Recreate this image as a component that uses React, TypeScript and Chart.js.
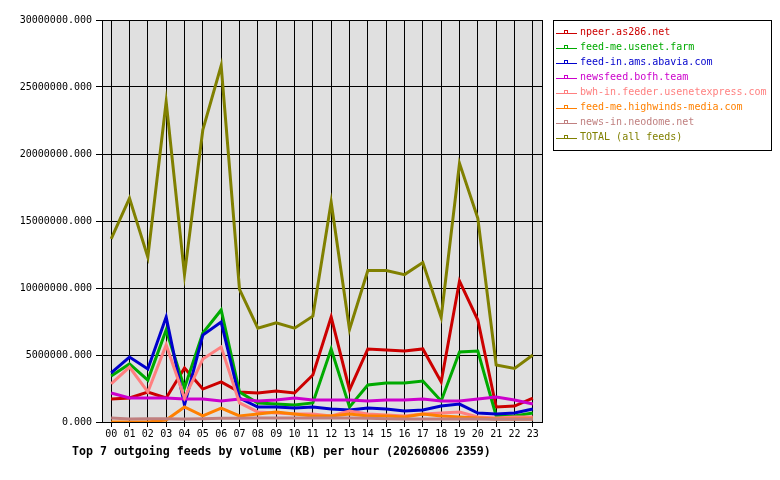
import { useEffect, useRef } from 'react';
import { Chart, registerables } from 'chart.js';

Chart.register(...registerables);

const hours = ['00', '01', '02', '03', '04', '05', '06', '07', '08', '09', '10', '11',
  '12', '13', '14', '15', '16', '17', '18', '19', '20', '21', '22', '23'];

const npeer = [1.72, 1.79, 2.24, 1.79, 4.03, 2.46, 2.99, 2.24, 2.16, 2.31, 2.16, 3.51,
  7.84, 2.39, 5.45, 5.37, 5.30, 5.45, 2.99, 10.52, 7.61, 1.12, 1.19, 1.79];
const feedMeUsenetFarm = [3.43, 4.33, 3.13, 6.87, 2.54, 6.64, 8.36, 2.24, 1.42, 1.34, 1.27, 1.42,
  5.45, 1.12, 2.76, 2.91, 2.91, 3.06, 1.57, 5.22, 5.30, 0.45, 0.45, 0.67];
const feedInAbavia = [3.66, 4.85, 3.96, 7.84, 1.27, 6.49, 7.46, 1.79, 1.12, 1.12, 1.04, 1.12,
  0.97, 0.90, 1.04, 0.97, 0.82, 0.90, 1.19, 1.34, 0.67, 0.60, 0.67, 0.97];
const newsfeedBofh = [2.16, 1.79, 1.79, 1.79, 1.72, 1.72, 1.57, 1.72, 1.57, 1.64, 1.79, 1.64,
  1.64, 1.64, 1.57, 1.64, 1.64, 1.72, 1.57, 1.57, 1.72, 1.87, 1.64, 1.34];
const bwhUsenetExpress = [2.84, 4.10, 2.24, 5.75, 1.79, 4.70, 5.60, 1.42, 0.75, 0.67, 0.60, 0.60,
  0.45, 0.82, 0.60, 0.52, 0.45, 0.60, 0.67, 0.75, 0.37, 0.30, 0.37, 0.37];
const feedMeHighwinds = [0, 0, 0, 0.15, 1.12, 0.45, 1.04, 0.45, 0.60, 0.75, 0.60, 0.45,
  0.45, 0.60, 0.45, 0.45, 0.37, 0.60, 0.45, 0.37, 0.30, 0.22, 0.22, 0.22];
const newsInNeodome = [0.30, 0.22, 0.25, 0.25, 0.22, 0.25, 0.28, 0.28, 0.30, 0.30, 0.30, 0.30,
  0.30, 0.30, 0.28, 0.25, 0.22, 0.22, 0.22, 0.22, 0.22, 0.20, 0.20, 0.20];
const totalAll = [13.66, 16.7, 12.3, 23.9, 11.0, 21.8, 26.6, 9.9, 7.0, 7.4, 7.0, 7.9,
  16.4, 6.9, 11.3, 11.3, 11.0, 11.9, 7.8, 19.3, 15.2, 4.25, 4.0, 5.0];

// values above are in millions of KB
const M = 1000000;

const feeds = [
  { label: 'npeer.as286.net', values: npeer, color: '#cc0000' },
  { label: 'feed-me.usenet.farm', values: feedMeUsenetFarm, color: '#00aa00' },
  { label: 'feed-in.ams.abavia.com', values: feedInAbavia, color: '#0000cc' },
  { label: 'newsfeed.bofh.team', values: newsfeedBofh, color: '#cc00cc' },
  { label: 'bwh-in.feeder.usenetexpress.com', values: bwhUsenetExpress, color: '#ff8080' },
  { label: 'feed-me.highwinds-media.com', values: feedMeHighwinds, color: '#ff8000' },
  { label: 'news-in.neodome.net', values: newsInNeodome, color: '#c08080' },
  { label: 'TOTAL (all feeds)', values: totalAll, color: '#808000' },
];

const chartTitle = 'Top 7 outgoing feeds by volume (KB) per hour (20260806 2359)';
const MONO = '"DejaVu Sans Mono", monospace';

const framePlugin = {
  id: 'frame',
  beforeDraw(chart: any) {
    const { ctx, chartArea } = chart;
    ctx.save();
    ctx.fillStyle = '#ffffff';
    ctx.fillRect(0, 0, chart.width, chart.height);
    ctx.fillStyle = '#e0e0e0';
    ctx.fillRect(chartArea.left, chartArea.top, chartArea.right - chartArea.left, chartArea.bottom - chartArea.top);
    ctx.restore();
  },
  afterDraw(chart: any) {
    const { ctx, chartArea } = chart;
    ctx.save();
    // plot frame
    ctx.strokeStyle = '#000000';
    ctx.lineWidth = 1;
    ctx.strokeRect(Math.round(chartArea.left) + 0.5, Math.round(chartArea.top) + 0.5,
      Math.round(chartArea.right - chartArea.left), Math.round(chartArea.bottom - chartArea.top));

    // legend box
    ctx.strokeStyle = '#000000';
    ctx.strokeRect(553.5, 20.5, 218, 130);
    ctx.font = '10px ' + MONO;
    ctx.textBaseline = 'middle';
    ctx.textAlign = 'left';
    chart.data.datasets.forEach((ds: any, i: number) => {
      const y = Math.round(33 + i * 15) + 0.5;
      ctx.strokeStyle = ds.borderColor;
      ctx.lineWidth = 1;
      ctx.beginPath();
      ctx.moveTo(556, y);
      ctx.lineTo(577, y);
      ctx.stroke();
      ctx.strokeRect(564.5, y - 3, 3, 3);
      ctx.fillStyle = ds.borderColor;
      ctx.fillText(ds.label, 580, y - 1);
    });

    // title under the plot
    ctx.fillStyle = '#000000';
    ctx.font = 'bold 11.6px ' + MONO;
    ctx.textBaseline = 'middle';
    ctx.fillText(chartTitle, 72, 452);
    ctx.restore();
  },
};

export default function App() {
  const canvasRef = useRef<HTMLCanvasElement>(null);

  useEffect(() => {
    if (!canvasRef.current) return;
    const n = feeds.length;
    const chart = new Chart(canvasRef.current, {
      type: 'line',
      data: {
        labels: hours,
        datasets: feeds.map((f, i) => ({
          label: f.label,
          data: f.values.map(v => v * M),
          borderColor: f.color,
          backgroundColor: f.color,
          borderWidth: 3,
          pointRadius: 0,
          tension: 0,
          order: n - i,
        })),
      },
      options: {
        responsive: true,
        maintainAspectRatio: false,
        animation: false,
        layout: { padding: { left: 0, right: 238, top: 20, bottom: 0 } },
        plugins: {
          legend: { display: false },
          tooltip: { enabled: false },
          title: { display: false },
        },
        scales: {
          x: {
            offset: true,
            grid: { offset: false, color: '#000000', lineWidth: 1, tickLength: 5, drawTicks: true },
            border: { color: '#000000' },
            ticks: { color: '#000000', font: { family: MONO, size: 10 }, padding: 1, autoSkip: false, maxRotation: 0 },
            afterFit: (s: any) => { s.height = 58; },
          },
          y: {
            min: 0,
            max: 30 * M,
            grid: { color: '#000000', lineWidth: 1, tickLength: 6, drawTicks: true },
            border: { color: '#000000' },
            ticks: {
              stepSize: 5 * M,
              color: '#000000',
              font: { family: MONO, size: 10 },
              padding: 4,
              callback: (v: any) => Number(v).toFixed(3),
            },
            afterFit: (s: any) => { s.width = 102; },
          },
        },
      },
      plugins: [framePlugin],
    });
    return () => chart.destroy();
  }, []);

  return (
    <div style={{ position: 'absolute', left: 0, top: 0, width: 780, height: 480, background: '#fff' }}>
      <canvas ref={canvasRef}></canvas>
    </div>
  );
}
